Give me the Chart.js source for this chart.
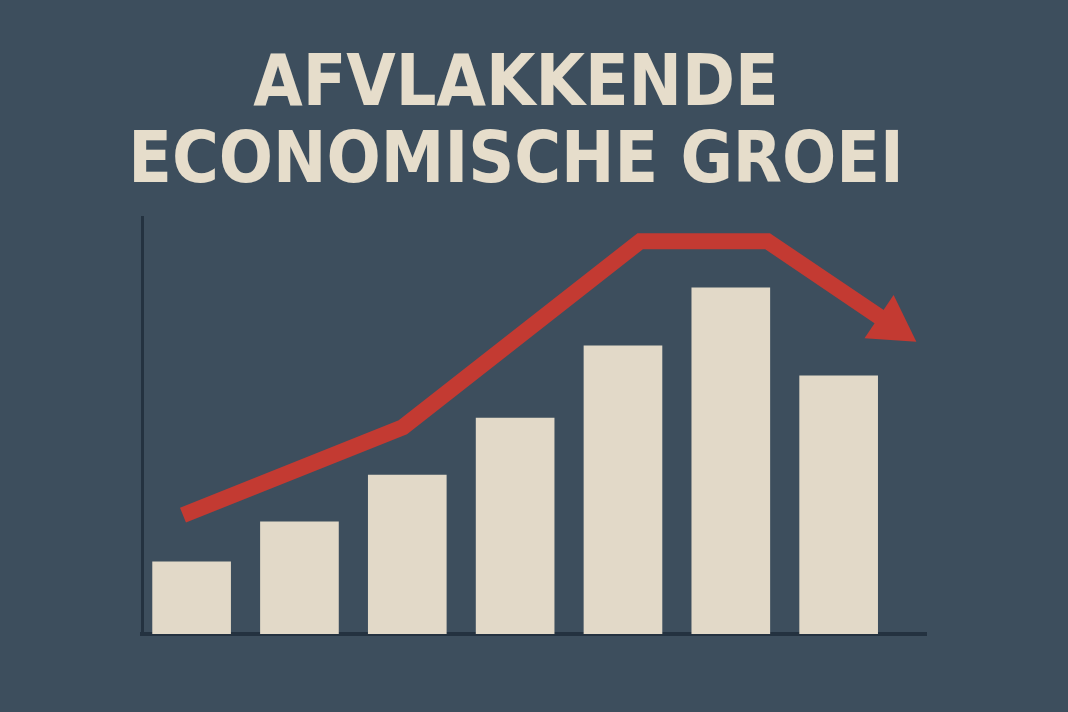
<!DOCTYPE html>
<html>
<head>
<meta charset="utf-8">
<script src="https://cdn.jsdelivr.net/npm/chart.js@4/dist/chart.umd.min.js"></script>
<style>
  html, body { margin: 0; padding: 0; background: #3d4e5d; }
  #wrap { width: 1068px; height: 712px; }
</style>
</head>
<body>
<div id="wrap"><canvas id="c" width="1068" height="712"></canvas></div>
<script>
// ---- data ----
const titleLines = ['AFVLAKKENDE', 'ECONOMISCHE GROEI'];
const periods = [1, 2, 3, 4, 5, 6, 7];
const barValues = [17.3, 26.9, 38.1, 51.8, 69.1, 83.0, 61.9];
const trendX = [0.92, 2.96, 5.16, 6.34, 7.49];
const trendY = [28.5, 49.6, 94.2, 94.2, 74.1];

const BG = '#3d4e5d';
const BEIGE = '#e2d9c8';
const RED = '#c33a32';
const AXIS = '#243240';

const bgPlugin = {
  id: 'bg',
  beforeDraw(chart) {
    const ctx = chart.ctx;
    ctx.save();
    ctx.fillStyle = BG;
    ctx.fillRect(0, 0, chart.width, chart.height);
    ctx.restore();
  }
};

const n = trendY.length;

new Chart(document.getElementById('c'), {
  type: 'bar',
  data: {
    datasets: [
      {
        type: 'line',
        order: 0,
        data: trendX.map((x, i) => ({ x, y: trendY[i] })),
        borderColor: RED,
        borderWidth: 16,
        borderJoinStyle: 'miter',
        borderCapStyle: 'butt',
        tension: 0,
        fill: false,
        clip: false,
        pointBackgroundColor: RED,
        pointBorderWidth: 0,
        pointStyle: 'triangle',
        pointRadius: ctx => ctx.dataIndex === n - 1 ? 30 : 0,
        pointRotation: ctx => {
          const i = ctx.dataIndex;
          if (i !== n - 1) return 0;
          const xs = ctx.chart.scales.x, ys = ctx.chart.scales.y;
          const dx = xs.getPixelForValue(trendX[i]) - xs.getPixelForValue(trendX[i - 1]);
          const dy = ys.getPixelForValue(trendY[i]) - ys.getPixelForValue(trendY[i - 1]);
          return Math.atan2(dy, dx) * 180 / Math.PI + 90;
        }
      },
      {
        type: 'bar',
        order: 1,
        data: periods.map((x, i) => ({ x, y: barValues[i] })),
        backgroundColor: BEIGE,
        borderWidth: 0,
        barThickness: 78
      }
    ]
  },
  options: {
    responsive: false,
    animation: false,
    events: [],
    layout: { padding: { left: 106, right: 142, top: 0, bottom: 78 } },
    plugins: {
      legend: { display: false },
      tooltip: { enabled: false },
      title: {
        display: true,
        text: titleLines,
        color: '#e6ddcb',
        font: { family: "'DejaVu Sans Condensed', 'DejaVu Sans'", weight: 'bold', size: 71, lineHeight: '77px' },
        padding: { top: 48, bottom: 15 }
      }
    },
    scales: {
      x: {
        type: 'linear',
        offset: false,
        min: 0.54,
        max: 7.81,
        grid: { display: false, drawTicks: false },
        ticks: { display: false },
        border: { display: true, color: AXIS, width: 4 }
      },
      y: {
        min: 0,
        max: 100,
        grid: { display: false, drawTicks: false },
        ticks: { display: false },
        border: { display: true, color: AXIS, width: 3 },
        afterFit(scale) { scale.width = 36; }
      }
    }
  },
  plugins: [bgPlugin]
});
</script>
</body>
</html>
